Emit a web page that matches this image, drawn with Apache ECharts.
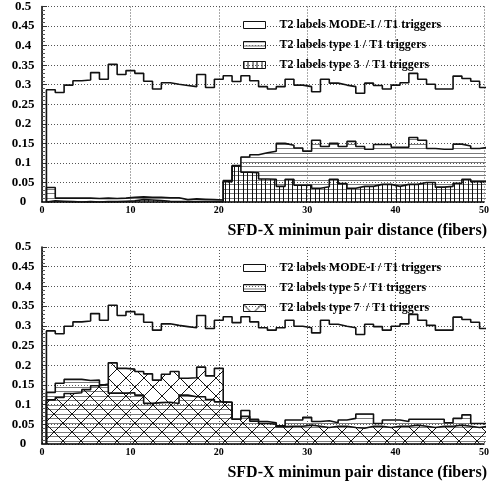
<!DOCTYPE html>
<html>
<head>
<meta charset="utf-8">
<script src="https://cdn.jsdelivr.net/npm/echarts@6/dist/echarts.min.js"></script>
<style>
  html, body { margin: 0; padding: 0; background: #fff; }
  #chart { width: 492px; height: 481px; }
</style>
</head>
<body>
<div id="chart"></div>
<script>
// Ratios of T2 labels to T1 triggers, per SFD-X minimum pair distance bin (bins centred on 1..50)
const binCenters = Array.from({ length: 50 }, (_, i) => i + 1);

const modeI = [
  0.287, 0.280, 0.299, 0.310, 0.312, 0.331, 0.314, 0.352, 0.326, 0.336,
  0.329, 0.309, 0.289, 0.305, 0.301, 0.298, 0.295, 0.326, 0.293, 0.314,
  0.323, 0.308, 0.323, 0.310, 0.295, 0.289, 0.295, 0.314, 0.299, 0.295,
  0.282, 0.314, 0.304, 0.299, 0.295, 0.278, 0.304, 0.298, 0.289, 0.299,
  0.305, 0.329, 0.314, 0.301, 0.289, 0.289, 0.322, 0.316, 0.309, 0.293
];

const type1 = [
  0.037, 0.010, 0.010, 0.010, 0.010, 0.009, 0.010, 0.009, 0.010, 0.012,
  0.013, 0.012, 0.012, 0.011, 0.011, 0.006, 0.008, 0.007, 0.006, 0.005,
  0.055, 0.093, 0.115, 0.121, 0.126, 0.130, 0.150, 0.145, 0.138, 0.130,
  0.158, 0.142, 0.150, 0.142, 0.155, 0.142, 0.135, 0.147, 0.147, 0.140,
  0.140, 0.165, 0.158, 0.137, 0.135, 0.135, 0.148, 0.143, 0.137, 0.140
];

const type3 = [
  0.003, 0.002, 0.001, 0.000, 0.001, 0.000, 0.001, 0.001, 0.002, 0.003,
  0.006, 0.005, 0.004, 0.002, 0.001, 0.001, 0.001, 0.002, 0.001, 0.001,
  0.052, 0.092, 0.076, 0.075, 0.059, 0.058, 0.040, 0.058, 0.043, 0.043,
  0.035, 0.039, 0.058, 0.047, 0.035, 0.040, 0.040, 0.045, 0.045, 0.040,
  0.045, 0.045, 0.050, 0.050, 0.038, 0.040, 0.048, 0.058, 0.052, 0.052
];

const type5 = [
  0.131, 0.154, 0.164, 0.164, 0.161, 0.162, 0.150, 0.129, 0.129, 0.130,
  0.124, 0.103, 0.105, 0.106, 0.103, 0.124, 0.120, 0.120, 0.113, 0.107,
  0.106, 0.063, 0.070, 0.063, 0.057, 0.054, 0.046, 0.061, 0.061, 0.068,
  0.057, 0.059, 0.054, 0.061, 0.065, 0.076, 0.076, 0.052, 0.061, 0.061,
  0.057, 0.063, 0.063, 0.063, 0.063, 0.054, 0.065, 0.074, 0.052, 0.052
];

const type7 = [
  0.112, 0.118, 0.128, 0.130, 0.138, 0.148, 0.152, 0.206, 0.192, 0.190,
  0.184, 0.178, 0.162, 0.177, 0.184, 0.167, 0.168, 0.195, 0.173, 0.192,
  0.106, 0.063, 0.085, 0.058, 0.052, 0.050, 0.044, 0.045, 0.045, 0.048,
  0.045, 0.042, 0.045, 0.045, 0.042, 0.040, 0.045, 0.045, 0.042, 0.045,
  0.045, 0.048, 0.045, 0.042, 0.045, 0.045, 0.048, 0.045, 0.042, 0.045
];

const yTicks = [0, 0.05, 0.1, 0.15, 0.2, 0.25, 0.3, 0.35, 0.4, 0.45, 0.5];
const xTicks = [0, 10, 20, 30, 40, 50];

const nameModeI = 'T2 labels MODE-I / T1 triggers';
const nameT1 = 'T2 labels type 1 / T1 triggers';
const nameT3 = 'T2 labels type 3  / T1 triggers';
const nameT5 = 'T2 labels type 5 / T1 triggers';
const nameT7 = 'T2 labels type 7  / T1 triggers';
const axisTitle = 'SFD-X minimun pair distance (fibers)';

// Histogram outline: bin edges at centre ± 0.5
function histPath(values) {
  const pts = [[binCenters[0] - 0.5, 0]];
  values.forEach((v, i) => {
    pts.push([binCenters[i] - 0.5, v]);
    pts.push([binCenters[i] + 0.5, v]);
  });
  pts.push([binCenters[binCenters.length - 1] + 0.5, 0]);
  return pts;
}

// Hatch fills
function hatch(kind) {
  const c = document.createElement('canvas');
  const ctx = c.getContext('2d');
  if (kind === 'horizontal') {
    c.width = 4; c.height = 9;
    ctx.fillStyle = '#7a7a7a';
    ctx.fillRect(0, 0, 4, 1);
    ctx.fillRect(0, 4, 4, 1);
  } else if (kind === 'vertical') {
    c.width = 9; c.height = 4;
    ctx.fillStyle = '#111';
    ctx.fillRect(0, 0, 1, 4);
    ctx.fillRect(4, 0, 1, 4);
  } else if (kind === 'cross') {
    const s = 18;
    c.width = s; c.height = s;
    ctx.strokeStyle = '#111';
    ctx.lineWidth = 1;
    ctx.beginPath();
    ctx.moveTo(-1, -1); ctx.lineTo(s + 1, s + 1);
    ctx.moveTo(-1, s + 1); ctx.lineTo(s + 1, -1);
    ctx.stroke();
  }
  return { image: c, repeat: 'repeat' };
}

const fillH = hatch('horizontal');
const fillV = hatch('vertical');
const fillX = hatch('cross');

const serif = '"Liberation Serif", "Times New Roman", serif';

function histSeries(name, values, grid, fill) {
  return {
    name: name,
    type: 'line',
    xAxisIndex: grid,
    yAxisIndex: grid,
    data: histPath(values),
    showSymbol: false,
    symbol: 'none',
    animation: false,
    lineStyle: { color: '#111', width: 1.6 },
    itemStyle: { color: '#111' },
    areaStyle: fill ? { color: fill, opacity: 1 } : undefined,
    z: 3
  };
}

const grids = [
  { left: 42, top: 4, width: 445, height: 198 },
  { left: 42, top: 247, width: 445, height: 197 }
];

function xAxisFor(i) {
  return {
    type: 'value', gridIndex: i, min: xTicks[0], max: xTicks[xTicks.length - 1], interval: 10,
    axisLine: { show: true, onZero: false, lineStyle: { color: '#000', width: 1.5 } },
    axisTick: { show: false },
    axisLabel: { color: '#000', fontFamily: serif, fontWeight: 'bold', fontSize: 10, margin: 3 },
    splitLine: { show: true, lineStyle: { color: '#555', type: [1, 2], width: 1 } },
    name: axisTitle,
    nameLocation: 'end',
    nameGap: 3,
    nameTextStyle: {
      color: '#000', fontFamily: serif, fontWeight: 'bold', fontSize: 16,
      align: 'right', verticalAlign: 'top', padding: [21, 0, 0, 0]
    },
    z: 1
  };
}

function yAxisFor(i) {
  return {
    type: 'value', gridIndex: i, min: yTicks[0], max: yTicks[yTicks.length - 1], interval: 0.05,
    offset: 2,
    axisLine: { show: true, lineStyle: { color: '#000', width: 1.5 } },
    axisTick: { show: true, inside: true, length: 5, lineStyle: { color: '#333' } },
    minorTick: { show: true, splitNumber: 5, length: 3, lineStyle: { color: '#555' } },
    axisLabel: {
      color: '#000', fontFamily: serif, fontWeight: 'bold', fontSize: 13, margin: 17,
      align: 'center',
      formatter: v => String(+v.toFixed(2))
    },
    splitLine: { show: true, lineStyle: { color: '#555', type: [1, 2], width: 1 } },
    z: 1
  };
}

function legendFor(top, names, fills) {
  return {
    orient: 'vertical', left: 243, top: top, padding: 0, z: 8,
    itemWidth: 22, itemHeight: 7, itemGap: 8,
    textStyle: {
      color: '#000', fontFamily: serif, fontWeight: 'bold', fontSize: 12,
      padding: [0, 0, 0, 9]
    },
    data: names.map((n, k) => ({
      name: n, icon: 'rect',
      itemStyle: { color: fills[k], borderColor: '#111', borderWidth: 1, opacity: 1 },
      lineStyle: { width: 0, opacity: 0 }
    })),
    selectedMode: false
  };
}

const chart = echarts.init(document.getElementById('chart'), null, { renderer: 'canvas' });
chart.setOption({
  backgroundColor: '#fff',
  animation: false,
  grid: grids,
  xAxis: [xAxisFor(0), xAxisFor(1)],
  yAxis: [yAxisFor(0), yAxisFor(1)],
  legend: [
    legendFor(19, [nameModeI, nameT1, nameT3], ['#ffffff', fillH, fillV]),
    legendFor(262, [nameModeI, nameT5, nameT7], ['#ffffff', fillH, fillX])
  ],
  series: [
    histSeries(nameModeI, modeI, 0, null),
    histSeries(nameT1, type1, 0, fillH),
    histSeries(nameT3, type3, 0, fillV),
    histSeries(nameModeI, modeI, 1, null),
    histSeries(nameT5, type5, 1, fillH),
    histSeries(nameT7, type7, 1, fillX)
  ]
});
</script>
</body>
</html>
